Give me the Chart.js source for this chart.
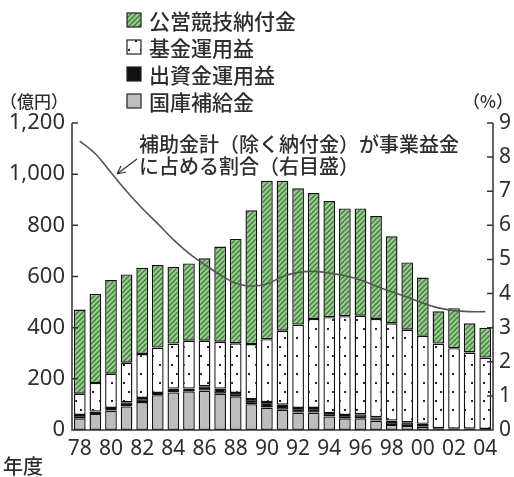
<!DOCTYPE html>
<html>
<head>
<meta charset="utf-8">
<script src="https://cdn.jsdelivr.net/npm/chart.js@4.4.1/dist/chart.umd.min.js"></script>
<style>
  body { margin: 0; background: #fff; }
  canvas { display: block; }
</style>
</head>
<body>
<canvas id="grafico" width="514" height="477"></canvas>
<script>
// 年度別の事業益金の内訳（億円）と補助金比率（%）
const anios = ['78','79','80','81','82','83','84','85','86','87','88','89','90','91','92','93','94','95','96','97','98','99','00','01','02','03','04'];
const kokko = [46,63,76,92,109,136,147,151,154,142,132,101,88,79,68,68,53,46,46,37,20,16,13,0,0,0,0];
const shusshi = [13,9,10,16,16,9,15,11,17,20,13,20,21,20,18,18,13,13,16,13,17,14,11,7,5,5,4];
const kikin = [83,112,134,155,172,177,176,187,178,183,194,215,246,289,326,348,375,386,385,384,380,362,344,331,315,298,279];
const nofu = [329,348,366,345,337,323,300,302,322,372,408,523,619,586,533,492,454,421,419,402,340,263,228,126,156,114,116];
const wariai = [8.47,8.1,7.55,7.0,6.5,6.05,5.58,5.18,4.85,4.55,4.3,4.22,4.28,4.5,4.62,4.65,4.6,4.52,4.4,4.22,4.05,3.9,3.72,3.58,3.5,3.47,3.47];
const ticksIzq = [0,200,400,600,800,1000,1200];
const ticksDer = [0,1,2,3,4,5,6,7,8,9];

const colorTexto = '#2e2e2e';
const fuenteNum = '"Noto Sans", "DejaVu Sans", sans-serif';
const fuenteJp = '"Noto Sans CJK JP", sans-serif';

// tramas de relleno
function patronRayado(){
    const c = document.createElement('canvas');
    c.width = 5; c.height = 5;
    const g = c.getContext('2d');
    g.fillStyle = '#97cc8c';
    g.fillRect(0, 0, 5, 5);
    g.strokeStyle = '#3f7d3b';
    g.lineWidth = 1.3;
    g.beginPath();
    g.moveTo(-1, 6); g.lineTo(6, -1);
    g.moveTo(-1, 1); g.lineTo(1, -1);
    g.moveTo(4, 6); g.lineTo(6, 4);
    g.stroke();
    return g.createPattern(c, 'repeat');
}

function patronPuntos(){
    const c = document.createElement('canvas');
    c.width = 12; c.height = 18;
    const g = c.getContext('2d');
    g.fillStyle = '#fff';
    g.fillRect(0, 0, 12, 18);
    g.fillStyle = '#222';
    g.fillRect(3, 4, 2, 2);
    g.fillRect(8, 13, 2, 2);
    return g.createPattern(c, 'repeat');
}

const rayado = patronRayado();
const puntos = patronPuntos();

const leyenda = [
    { texto: '公営競技納付金', relleno: rayado },
    { texto: '基金運用益', relleno: puntos },
    { texto: '出資金運用益', relleno: '#111' },
    { texto: '国庫補給金', relleno: '#bdbdbd' }
];

// ejes, marcas hacia dentro, leyenda y rótulos
const extras = {
    id: 'extras',
    afterDatasetsDraw(chart){
        const ctx = chart.ctx;
        const a = chart.chartArea;
        const yI = chart.scales.y;
        const yD = chart.scales.y2;
        ctx.save();
        ctx.strokeStyle = '#333';
        ctx.lineWidth = 1.5;
        ctx.beginPath();
        ctx.moveTo(a.left, a.top); ctx.lineTo(a.left, a.bottom);
        ctx.lineTo(a.right, a.bottom); ctx.lineTo(a.right, a.top);
        ticksIzq.forEach(v => {
            const y = yI.getPixelForValue(v);
            ctx.moveTo(a.left, y); ctx.lineTo(a.left + 6, y);
        });
        ticksDer.forEach(v => {
            const y = yD.getPixelForValue(v);
            ctx.moveTo(a.right, y); ctx.lineTo(a.right - 6, y);
        });
        ctx.stroke();

        // leyenda
        ctx.font = '500 21px ' + fuenteJp;
        ctx.textBaseline = 'middle';
        ctx.textAlign = 'left';
        leyenda.forEach((l, i) => {
            const y = 20 + i * 27;
            ctx.fillStyle = l.relleno;
            ctx.fillRect(127, y - 7, 14, 14);
            ctx.strokeStyle = '#222';
            ctx.lineWidth = 1.2;
            ctx.strokeRect(127, y - 7, 14, 14);
            ctx.fillStyle = colorTexto;
            ctx.fillText(l.texto, 149, y + 1);
        });

        // unidades
        ctx.font = '500 17px ' + fuenteJp;
        ctx.fillText('（億円）', 0, 102);
        ctx.textAlign = 'right';
        ctx.fillText('（%）', 513, 102);
        ctx.textAlign = 'left';
        ctx.font = '500 20px ' + fuenteJp;
        ctx.fillText('年度', 3, 466);

        // nota de la línea
        ctx.font = '500 20px ' + fuenteJp;
        ctx.fillText('補助金計（除く納付金）が事業益金', 139, 144);
        ctx.fillText('に占める割合（右目盛）', 139, 166);
        ctx.strokeStyle = '#333';
        ctx.lineWidth = 1.2;
        ctx.beginPath();
        ctx.moveTo(137, 159); ctx.lineTo(117, 174);
        ctx.moveTo(117, 174); ctx.lineTo(121, 166);
        ctx.moveTo(117, 174); ctx.lineTo(126, 172);
        ctx.stroke();
        ctx.restore();
    }
};

function barra(etiqueta, datos, relleno){
    return {
        type: 'bar',
        label: etiqueta,
        data: datos,
        backgroundColor: relleno,
        borderColor: '#111',
        borderWidth: 1.4,
        borderSkipped: false,
        yAxisID: 'y',
        order: 2
    };
}

new Chart(document.getElementById('grafico').getContext('2d'), {
    data: {
        labels: anios,
        datasets: [
            {
                type: 'line',
                label: '補助金計（除く納付金）が事業益金に占める割合',
                data: wariai,
                borderColor: '#555',
                borderWidth: 1.6,
                pointRadius: 0,
                tension: 0.4,
                yAxisID: 'y2',
                order: 1
            },
            barra('国庫補給金', kokko, '#bdbdbd'),
            barra('出資金運用益', shusshi, '#111'),
            barra('基金運用益', kikin, puntos),
            barra('公営競技納付金', nofu, rayado)
        ]
    },
    options: {
        responsive: false,
        animation: false,
        devicePixelRatio: 1,
        layout: { padding: { top: 123, right: 0, left: 0, bottom: 0 } },
        plugins: {
            legend: { display: false },
            tooltip: { enabled: false }
        },
        datasets: {
            bar: { categoryPercentage: 1, barPercentage: 0.75 }
        },
        scales: {
            x: {
                stacked: true,
                offset: true,
                grid: { display: false, drawTicks: false },
                border: { display: false },
                ticks: {
                    autoSkip: false,
                    maxRotation: 0,
                    padding: 6,
                    color: colorTexto,
                    font: { family: fuenteNum, size: 21 },
                    callback: function(v, i){ return i % 2 === 0 ? this.getLabelForValue(v) : ''; }
                },
                afterFit: s => { s.height = 47; }
            },
            y: {
                stacked: true,
                position: 'left',
                min: 0,
                max: 1200,
                grid: { display: false, drawTicks: false },
                border: { display: false },
                afterBuildTicks: s => { s.ticks = ticksIzq.map(v => ({ value: v })); },
                ticks: {
                    padding: 7,
                    color: colorTexto,
                    font: { family: fuenteNum, size: 22 },
                    callback: v => v.toLocaleString('en-US')
                },
                afterFit: s => { s.width = 72; }
            },
            y2: {
                position: 'right',
                min: 0,
                max: 9,
                grid: { display: false, drawTicks: false },
                border: { display: false },
                afterBuildTicks: s => { s.ticks = ticksDer.map(v => ({ value: v })); },
                ticks: {
                    padding: 6,
                    color: colorTexto,
                    font: { family: fuenteNum, size: 21 }
                },
                afterFit: s => { s.width = 21; }
            }
        }
    },
    plugins: [extras]
});
</script>
</body>
</html>
